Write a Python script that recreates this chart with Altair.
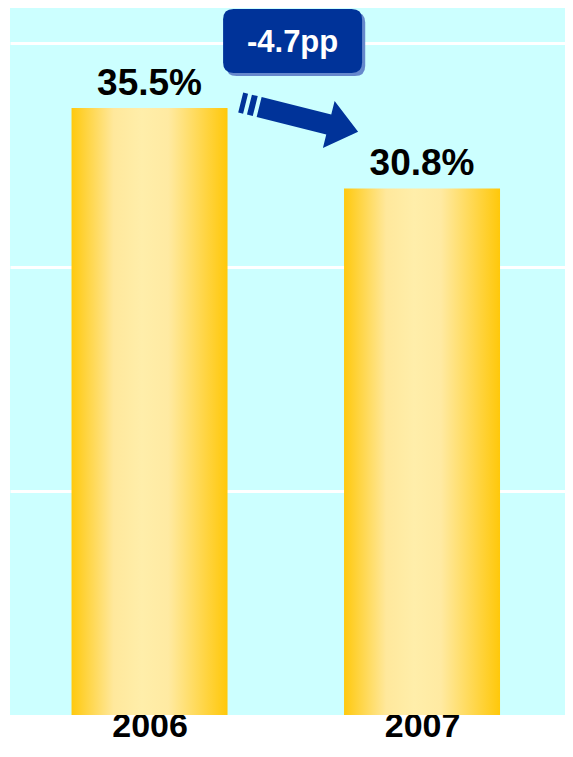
import altair as alt
import pandas as pd

# ---- data ----
years = ["2006", "2007"]
shares = [35.5, 30.8]
grid_levels = [13.1, 26.2, 39.3]

change = round(shares[1] - shares[0], 1)
change_label = f"{change:.1f}pp"

df = pd.DataFrame({"idx": list(range(len(years))), "year": years, "share": shares})
ann = pd.DataFrame({"label": [change_label]})

# ---- style ----
FONT = "Liberation Sans"
BLUE = "#003399"
SHADOW = "#6688CC"

x_scale = alt.Scale(domain=[-0.4937, 1.5063], nice=False, zero=False)
y_scale = alt.Scale(domain=[0, 41.35], nice=False, zero=True)

label_expr = "[" + ",".join(f"'{y}'" for y in years) + "][datum.value]"

x_axis = alt.Axis(values=list(range(len(years))), labelExpr=label_expr, title=None,
                  domain=False, ticks=False, grid=False, labelFontSize=34, labelFont=FONT,
                  labelFontWeight="bold", labelColor="black", labelPadding=-6,
                  labelBaseline="top", labelOverlap=False, labelFlush=False, labelBound=False)
y_axis = alt.Axis(values=grid_levels, title=None, domain=False, ticks=False, labels=False,
                  grid=True, gridColor="white", gridWidth=3, gridOpacity=1)

gradient = alt.Gradient(
    gradient="linear", x1=0, x2=1, y1=0, y2=0,
    stops=[
        alt.GradientStop(color="#FFC90E", offset=0),
        alt.GradientStop(color="#FFE89C", offset=0.27),
        alt.GradientStop(color="#FFEEAA", offset=0.45),
        alt.GradientStop(color="#FFEAA2", offset=0.62),
        alt.GradientStop(color="#FFC80A", offset=1),
    ],
)

bars = alt.Chart(df).mark_bar(width=156, color=gradient).encode(
    x=alt.X("idx:Q", scale=x_scale, axis=x_axis),
    y=alt.Y("share:Q", scale=y_scale, axis=y_axis),
)

values_text = alt.Chart(df).transform_calculate(
    label="format(datum.share, '.1f') + '%'"
).mark_text(dy=-13, baseline="alphabetic", fontSize=37, font=FONT,
            fontWeight="bold", color="black").encode(
    x="idx:Q", y="share:Q", text="label:N"
)


def rounded_rect(h, r, dx=0.0, dy=0.0):
    L, R, T, B = -1 + dx, 1 + dx, -h + dy, h + dy
    return (f"M {L + r} {T} L {R - r} {T} Q {R} {T} {R} {T + r} "
            f"L {R} {B - r} Q {R} {B} {R - r} {B} L {L + r} {B} "
            f"Q {L} {B} {L} {B - r} L {L} {T + r} Q {L} {T} {L + r} {T} Z")


box_h = 0.46
box_r = 0.15
box_size = 139 ** 2
box_x, box_y = 0.525, 39.42

shadow = alt.Chart(ann).mark_point(
    shape=rounded_rect(box_h, box_r, 0.045, 0.045), size=box_size, filled=True,
    color=SHADOW, opacity=1, strokeWidth=0
).encode(x=alt.datum(box_x), y=alt.datum(box_y))

box = alt.Chart(ann).mark_point(
    shape=rounded_rect(box_h, box_r), size=box_size, filled=True,
    color=BLUE, opacity=1, strokeWidth=0
).encode(x=alt.datum(box_x), y=alt.datum(box_y))

box_text = alt.Chart(ann).mark_text(
    fontSize=31, font=FONT, fontWeight="bold", color="white", baseline="middle", dy=2
).encode(x=alt.datum(box_x), y=alt.datum(box_y), text="label:N")

arrow_path = (
    "M -1 -0.17 L -0.917 -0.17 L -0.917 0.17 L -1 0.17 Z "
    "M -0.851 -0.17 L -0.752 -0.17 L -0.752 0.17 L -0.851 0.17 Z "
    "M -0.686 -0.17 L 0.5 -0.17 L 0.5 -0.4 L 1 0 L 0.5 0.4 "
    "L 0.5 0.17 L -0.686 0.17 Z"
)
arrow = alt.Chart(ann).mark_point(
    shape=arrow_path, size=121 ** 2, filled=True, color=BLUE, opacity=1,
    strokeWidth=0, angle=14
).encode(x=alt.datum(0.55), y=alt.datum(34.97))

chart = alt.layer(bars, values_text, shadow, box, box_text, arrow).properties(
    width=555, height=707,
    padding={"left": 2, "top": 0, "right": 0, "bottom": 29},
    autosize=alt.AutoSizeParams(type="none"),
    background="white",
).configure_view(fill="#CCFFFF", strokeWidth=0)

chart.save("out.html", embed_options={"renderer": "svg", "actions": False})
